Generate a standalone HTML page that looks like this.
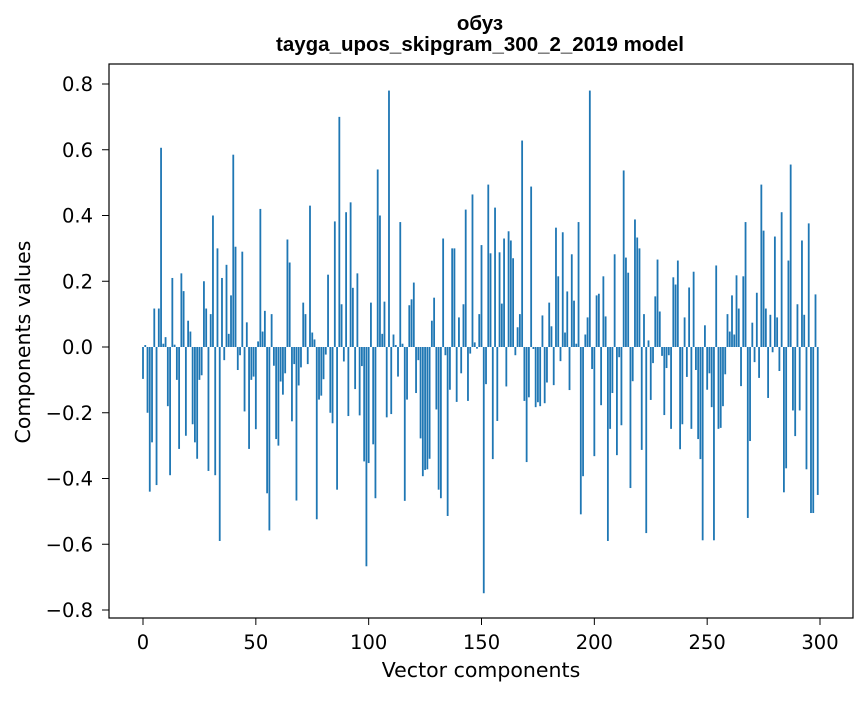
<!DOCTYPE html>
<html><head><meta charset="utf-8"><style>
body{margin:0;background:#fff}
svg text{font-family:"DejaVu Sans","Liberation Sans",sans-serif;fill:#000}
svg text.ttl{font-family:"Liberation Sans","DejaVu Sans",sans-serif}
</style></head><body>
<svg id="chart" width="867" height="696" viewBox="0 0 867 696" xmlns="http://www.w3.org/2000/svg">
<rect width="867" height="696" fill="#fff"/>
<text class="ttl" x="480" y="30" font-size="20.5" font-weight="bold" text-anchor="middle">обуз</text>
<text class="ttl" x="480" y="51" font-size="20.5" font-weight="bold" text-anchor="middle">tayga_upos_skipgram_300_2_2019 model</text>
<g id="bars"></g>
<g id="axes"></g>
<rect x="109" y="64" width="744" height="554" fill="none" stroke="#000" stroke-width="1.2"/>
<text x="481" y="677" font-size="20.5" text-anchor="middle">Vector components</text>
<text transform="translate(30,342) rotate(-90)" font-size="20.5" text-anchor="middle">Components values</text>
</svg>
<script>
const values = [
-0.097,0.006,-0.20,-0.44,-0.29,0.117,-0.42,0.117,0.606,0.01,
0.03,-0.18,-0.39,0.21,0.007,-0.10,-0.31,0.224,0.17,-0.27,
0.08,0.047,-0.235,-0.29,-0.34,-0.10,-0.086,0.20,0.117,-0.377,
0.10,0.40,-0.39,0.30,-0.59,0.21,-0.04,0.25,0.04,0.157,
0.585,0.305,-0.07,-0.025,0.29,-0.196,0.075,-0.31,-0.10,-0.09,
-0.25,0.017,0.42,0.047,0.11,-0.445,-0.558,0.10,-0.057,-0.28,
-0.30,-0.105,-0.145,-0.08,0.327,0.257,-0.226,-0.052,-0.467,-0.117,
-0.062,0.135,0.10,-0.052,0.43,0.044,0.023,-0.524,-0.16,-0.148,
-0.098,-0.023,0.22,-0.20,-0.232,0.382,-0.434,0.70,0.13,-0.044,
0.41,-0.21,0.44,0.18,-0.128,0.224,-0.208,-0.058,-0.348,-0.667,
-0.353,0.135,-0.296,-0.46,0.54,0.40,0.04,0.138,-0.214,0.78,
-0.204,0.038,0.006,-0.09,0.38,0.01,-0.468,-0.16,0.127,0.145,
0.196,-0.14,-0.04,-0.278,-0.393,-0.374,-0.372,-0.34,0.08,0.15,
-0.19,-0.434,-0.46,0.33,-0.025,-0.514,-0.13,0.30,0.30,-0.167,
0.09,-0.08,0.13,0.418,-0.164,-0.02,0.464,0.014,-0.005,0.10,
0.31,-0.749,-0.113,0.494,0.285,-0.341,0.424,-0.225,0.288,0.132,
0.33,-0.12,0.352,0.324,0.27,-0.025,0.06,0.10,0.628,-0.164,
-0.35,-0.153,0.488,-0.006,-0.183,-0.168,-0.18,0.096,-0.171,-0.108,
0.135,0.063,-0.116,0.363,0.215,-0.043,0.349,0.044,0.169,-0.131,
0.282,0.141,0.01,0.38,-0.509,-0.393,0.038,0.09,0.78,-0.067,
-0.332,0.157,0.162,-0.177,0.215,0.093,-0.59,-0.249,-0.14,0.282,
-0.329,-0.031,-0.238,0.537,0.272,0.226,-0.429,-0.104,0.388,0.333,
0.30,-0.313,0.10,-0.566,0.02,-0.161,-0.049,0.154,0.266,0.108,
-0.027,-0.207,-0.064,-0.025,-0.249,0.212,0.19,0.263,-0.311,-0.235,
0.09,-0.091,0.181,-0.249,0.229,-0.07,-0.28,-0.341,-0.588,0.066,
-0.13,-0.08,-0.183,-0.588,0.248,-0.249,-0.246,-0.18,-0.083,0.10,
0.047,0.157,0.038,0.218,0.117,-0.119,0.215,0.38,-0.52,-0.286,
0.074,-0.046,0.165,-0.094,0.494,0.354,0.117,-0.155,0.098,-0.016,
0.336,0.09,-0.073,0.41,-0.442,-0.369,0.263,0.555,-0.193,-0.271,
0.13,-0.193,0.324,0.098,-0.372,0.376,-0.505,-0.505,0.16,-0.45
];
const xTicks = [0,50,100,150,200,250,300];
const yTicks = [-0.8,-0.6,-0.4,-0.2,0.0,0.2,0.4,0.6,0.8];

const NS = "http://www.w3.org/2000/svg";
function xs(i){ return 143 + i*2.2567; }
function ys(v){ return 347 - v*328.75; }
const barW = 0.8*2.2567;
const bars = document.getElementById('bars');
values.forEach((v,i)=>{
  const r = document.createElementNS(NS,'rect');
  
  
  const y0 = ys(0), y1 = ys(v);
  r.setAttribute('x', xs(i)-barW/2);
  r.setAttribute('y', Math.min(y0,y1));
  r.setAttribute('width', barW);
  r.setAttribute('height', Math.max(Math.abs(y1-y0),0.3));
  r.setAttribute('fill', '#1f77b4');
  bars.appendChild(r);
});
const axes = document.getElementById('axes');
xTicks.forEach(t=>{
  const l = document.createElementNS(NS,'line');
  
  
  l.setAttribute('x1', xs(t)); l.setAttribute('x2', xs(t));
  l.setAttribute('y1', 618); l.setAttribute('y2', 625);
  l.setAttribute('stroke', '#000');
  axes.appendChild(l);
  const tx = document.createElementNS(NS,'text');
  
  
  tx.setAttribute('x', xs(t)); tx.setAttribute('y', 649);
  tx.setAttribute('font-size', '19.5'); tx.setAttribute('text-anchor', 'middle');
  tx.textContent = String(t);
  axes.appendChild(tx);
});
yTicks.forEach(t=>{
  const l = document.createElementNS(NS,'line');
  
  
  l.setAttribute('x1', 102); l.setAttribute('x2', 109);
  l.setAttribute('y1', ys(t)); l.setAttribute('y2', ys(t));
  l.setAttribute('stroke', '#000');
  axes.appendChild(l);
  const tx = document.createElementNS(NS,'text');
  
  
  tx.setAttribute('x', 93); tx.setAttribute('y', ys(t)+7);
  tx.setAttribute('font-size', '19.5'); tx.setAttribute('text-anchor', 'end');
  tx.textContent = (t<0?'\u2212':'') + Math.abs(t).toFixed(1);
  axes.appendChild(tx);
});
</script>
</body></html>
